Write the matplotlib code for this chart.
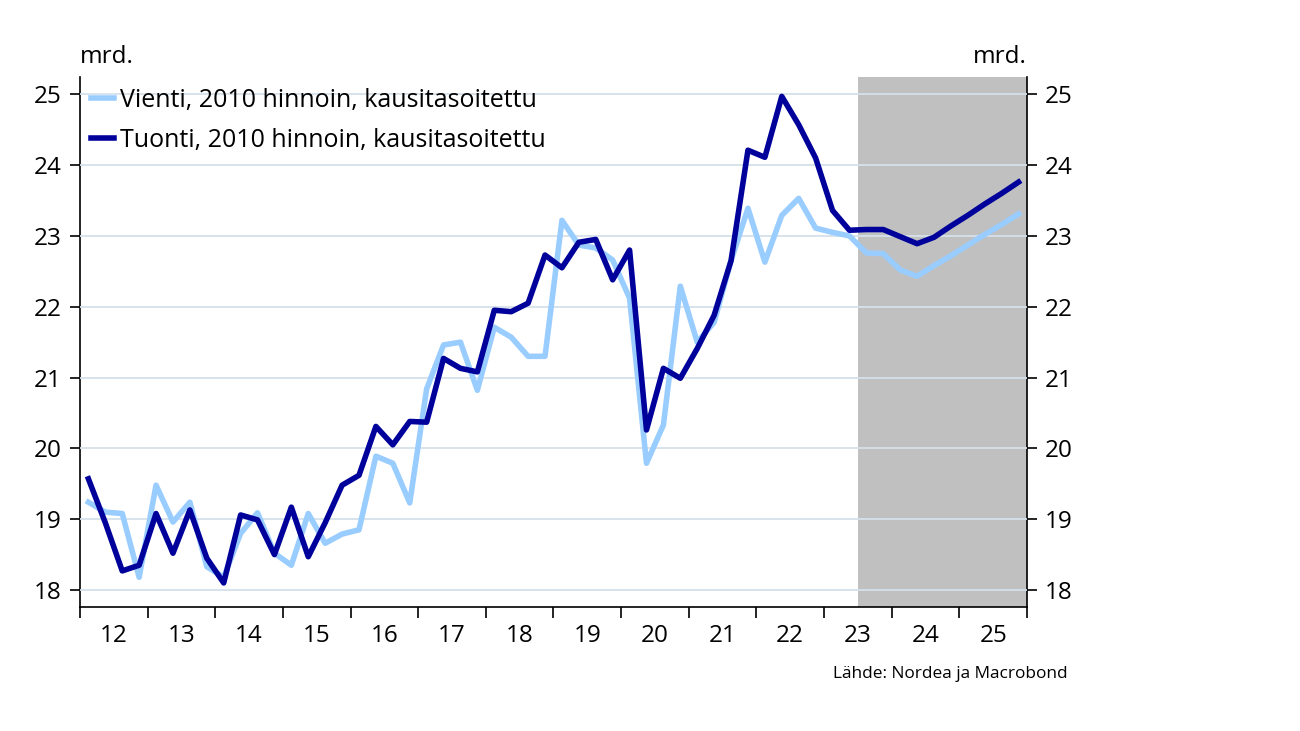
import matplotlib.pyplot as plt
import matplotlib.ticker as mticker
import numpy as np

plt.rcParams['font.family'] = ['Open Sans', 'DejaVu Sans']

# quarterly data 2012Q1 - 2025Q4, mrd. EUR (2010 prices, seasonally adjusted)
years = list(range(2012, 2026))
vienti = [19.24, 19.10, 19.08, 18.18, 19.48, 18.96, 19.24, 18.33,
          18.18, 18.80, 19.09, 18.52, 18.35, 19.08, 18.66, 18.79,
          18.85, 19.89, 19.79, 19.23, 20.84, 21.46, 21.50, 20.82,
          21.71, 21.57, 21.30, 21.30, 23.22, 22.87, 22.83, 22.66,
          22.12, 19.79, 20.33, 22.29, 21.50, 21.78, 22.65, 23.39,
          22.63, 23.29, 23.53, 23.11, 23.05, 23.00, 22.76, 22.75,
          22.52, 22.43, 22.58, 22.72, 22.87, 23.02, 23.16, 23.31]
tuonti = [19.57, 18.95, 18.27, 18.35, 19.08, 18.52, 19.13, 18.45,
          18.10, 19.06, 18.99, 18.50, 19.17, 18.47, 18.95, 19.48,
          19.62, 20.31, 20.05, 20.38, 20.37, 21.27, 21.13, 21.08,
          21.95, 21.93, 22.05, 22.73, 22.55, 22.91, 22.95, 22.38,
          22.80, 20.26, 21.13, 20.99, 21.41, 21.88, 22.65, 24.21,
          24.11, 24.97, 24.57, 24.10, 23.36, 23.08, 23.09, 23.09,
          22.99, 22.89, 22.98, 23.14, 23.29, 23.45, 23.60, 23.76]
forecast_start = 2023.5

t = 2012 + (np.arange(len(vienti)) + 0.5) / 4

fig = plt.figure(figsize=(13, 7.31), dpi=100)
ax = fig.add_axes([0.0615, 0.1696, 0.7285, 0.7251])

ax.axvspan(forecast_start, 2026, color='#c0c0c0', lw=0, zorder=0)
ax.plot(t, vienti, color='#99ccff', lw=4.0, label='Vienti, 2010 hinnoin, kausitasoitettu', zorder=3)
ax.plot(t, tuonti, color='#00009b', lw=4.0, label='Tuonti, 2010 hinnoin, kausitasoitettu', zorder=4)

ax.set_xlim(2012, 2026)
ax.set_ylim(17.76, 25.244)
ax.yaxis.set_major_locator(mticker.MultipleLocator(1))
ax.grid(axis='y', color='#d5e1ea', lw=1.3, zorder=1)
ax.set_axisbelow(False)

# year boundaries as ticks, labels in the middle of each year
ax.set_xticks(np.arange(2012, 2027))
ax.set_xticklabels([])
ax.set_xticks(np.array(years) + 0.5, minor=True)
ax.set_xticklabels([str(y)[2:] for y in years], minor=True)
ax.tick_params(axis='x', which='major', length=8, width=1.2, direction='out')
ax.tick_params(axis='x', which='minor', length=0, pad=12, labelsize=17.5)
ax.tick_params(axis='y', length=7, width=1.2, labelsize=17.5, right=True, labelright=True, pad=6)

for s in ['left', 'right', 'bottom']:
    ax.spines[s].set_linewidth(1.2)
ax.spines['top'].set_visible(False)

ax.text(0, 1.015, 'mrd.', transform=ax.transAxes, fontsize=17.5, ha='left', va='bottom')
ax.text(1, 1.015, 'mrd.', transform=ax.transAxes, fontsize=17.5, ha='right', va='bottom')

ax.legend(loc='upper left', frameon=False, fontsize=18, handlelength=0.9,
          handletextpad=0.25, borderaxespad=0.15, labelspacing=0.6,
          borderpad=0.3)

fig.text(1068 / 1300, 1 - 674 / 731, 'Lähde: Nordea ja Macrobond', fontsize=12.4,
         ha='right', va='center')

fig.savefig('out.png', dpi=100)
